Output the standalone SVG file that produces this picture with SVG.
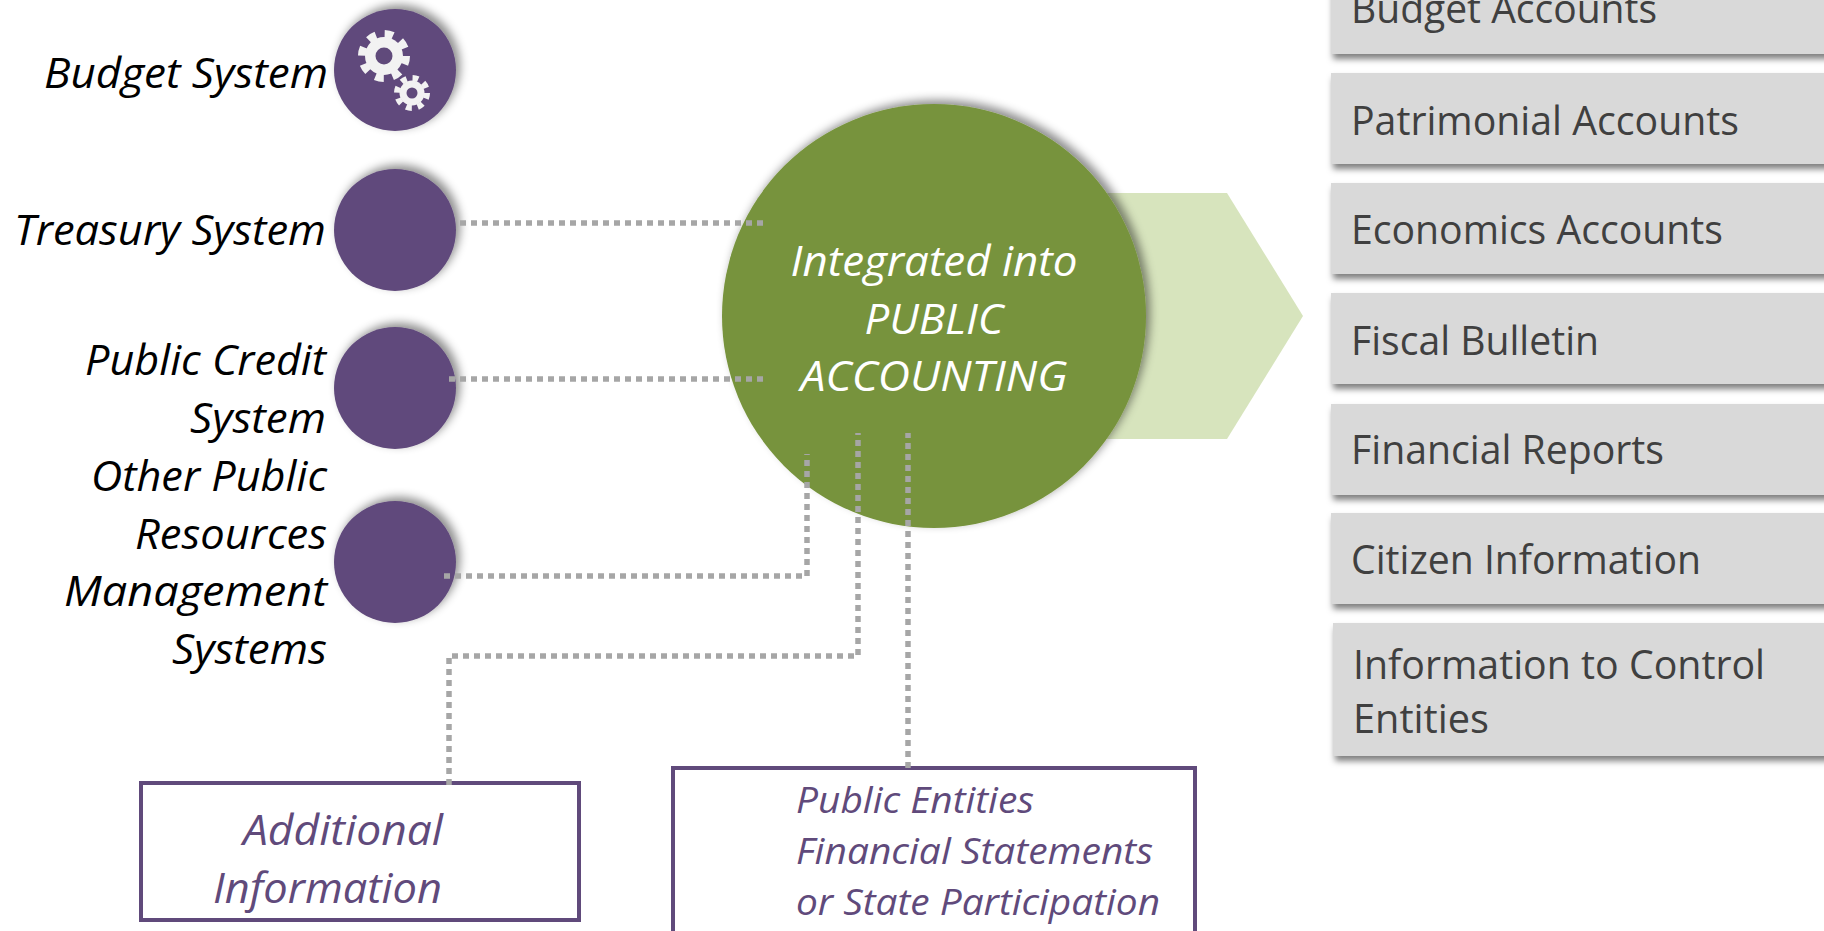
<svg xmlns="http://www.w3.org/2000/svg" width="1824" height="931" viewBox="0 0 1824 931">
<defs>
<filter id="shC" x="-30%" y="-30%" width="160%" height="160%">
<feDropShadow dx="4" dy="-4" stdDeviation="5" flood-color="#000" flood-opacity="0.45"/>
</filter>
<filter id="shB" x="-10%" y="-20%" width="120%" height="150%">
<feDropShadow dx="2" dy="5" stdDeviation="3" flood-color="#000" flood-opacity="0.5"/>
</filter>
<style>
.sys{fill:#604A7B;filter:url(#shC)}
.lbl{font-family:"Open Sans","Liberation Sans",sans-serif;font-style:italic;font-size:42px;fill:#000;text-anchor:end}
.ctr{font-family:"Open Sans","Liberation Sans",sans-serif;font-style:italic;font-size:42px;fill:#fff;text-anchor:middle}
.box{fill:#D9D9D9;filter:url(#shB)}
.btx{font-family:"Open Sans","Liberation Sans",sans-serif;font-size:40px;fill:#404040}
.pbox{fill:#fff;stroke:#604A7B;stroke-width:4}
.ptx{font-family:"Open Sans","Liberation Sans",sans-serif;font-style:italic;fill:#604A7B}
.dot{fill:none;stroke:#A6A6A6;stroke-width:5.5;stroke-dasharray:6 5}
.gear{fill:#F2F2F2}
</style>
</defs>
<rect width="1824" height="931" fill="#fff"/>

<g id="output-arrow">
<polygon points="1000,193 1227,193 1303,316 1227,439 1000,439" fill="#D7E4BD"/>
</g>

<g id="public-accounting">
<circle cx="934" cy="316" r="212" fill="#77933C" filter="url(#shC)"/>
<text class="ctr" x="934" y="276" textLength="287" lengthAdjust="spacingAndGlyphs">Integrated into</text>
<text class="ctr" x="934" y="334" textLength="139" lengthAdjust="spacingAndGlyphs">PUBLIC</text>
<text class="ctr" x="934" y="391" textLength="267" lengthAdjust="spacingAndGlyphs">ACCOUNTING</text>
</g>

<g id="budget-system">
<circle class="sys" cx="395" cy="70" r="61"/>
<g class="gear">
<circle cx="384" cy="56" r="19"/>
<circle cx="384" cy="56" r="22" fill="none" stroke="#F2F2F2" stroke-width="8" stroke-dasharray="8.5 8.78"/>
<circle cx="384" cy="56" r="8.5" fill="#604A7B"/>
<circle cx="412" cy="93" r="12.5"/>
<circle cx="412" cy="93" r="15" fill="none" stroke="#F2F2F2" stroke-width="6" stroke-dasharray="5.8 6"/>
<circle cx="412" cy="93" r="5.5" fill="#604A7B"/>
</g>
<text class="lbl" x="328" y="88" textLength="284" lengthAdjust="spacingAndGlyphs">Budget System</text>
</g>

<g id="treasury-system">
<circle class="sys" cx="395" cy="230" r="61"/>
<text class="lbl" x="326" y="245" textLength="312" lengthAdjust="spacingAndGlyphs">Treasury System</text>
</g>

<g id="public-credit-system">
<circle class="sys" cx="395" cy="388" r="61"/>
<text class="lbl" x="326" y="375" textLength="241" lengthAdjust="spacingAndGlyphs">Public Credit</text>
<text class="lbl" x="326" y="433" textLength="136" lengthAdjust="spacingAndGlyphs">System</text>
</g>

<g id="other-systems">
<circle class="sys" cx="395" cy="562" r="61"/>
<text class="lbl" x="327" y="491" textLength="236" lengthAdjust="spacingAndGlyphs">Other Public</text>
<text class="lbl" x="327" y="549" textLength="192" lengthAdjust="spacingAndGlyphs">Resources</text>
<text class="lbl" x="327" y="606" textLength="263" lengthAdjust="spacingAndGlyphs">Management</text>
<text class="lbl" x="327" y="664" textLength="155" lengthAdjust="spacingAndGlyphs">Systems</text>
</g>

<g id="additional-information">
<rect class="pbox" x="141" y="783" width="438" height="137"/>
<text class="ptx" x="243" y="845" font-size="42" textLength="200" lengthAdjust="spacingAndGlyphs">Additional</text>
<text class="ptx" x="213" y="903" font-size="42" textLength="229" lengthAdjust="spacingAndGlyphs">Information</text>
</g>

<g id="public-entities">
<rect class="pbox" x="673" y="768" width="522" height="180"/>
<text class="ptx" x="796" y="813" font-size="37" textLength="238" lengthAdjust="spacingAndGlyphs">Public Entities</text>
<text class="ptx" x="796" y="864" font-size="37" textLength="357" lengthAdjust="spacingAndGlyphs">Financial Statements</text>
<text class="ptx" x="796" y="915" font-size="37" textLength="364" lengthAdjust="spacingAndGlyphs">or State Participation</text>
</g>

<g id="connectors">
<path class="dot" d="M460,223 H768"/>
<path class="dot" d="M449,379 H768"/>
<path class="dot" d="M444,576 H807 V454"/>
<path class="dot" d="M449,785 V656 H858 V433"/>
<path class="dot" d="M908,768 V433"/>
</g>

<g id="outputs">
<g id="out-budget-accounts"><rect class="box" x="1331" y="-37" width="500" height="91"/><text class="btx" x="1351" y="23" textLength="306" lengthAdjust="spacingAndGlyphs">Budget Accounts</text></g>
<g id="out-patrimonial"><rect class="box" x="1331" y="73" width="500" height="91"/><text class="btx" x="1351" y="135" textLength="388" lengthAdjust="spacingAndGlyphs">Patrimonial Accounts</text></g>
<g id="out-economics"><rect class="box" x="1331" y="183" width="500" height="91"/><text class="btx" x="1351" y="244" textLength="372" lengthAdjust="spacingAndGlyphs">Economics Accounts</text></g>
<g id="out-fiscal"><rect class="box" x="1331" y="293" width="500" height="91"/><text class="btx" x="1351" y="355" textLength="248" lengthAdjust="spacingAndGlyphs">Fiscal Bulletin</text></g>
<g id="out-financial"><rect class="box" x="1331" y="404" width="500" height="91"/><text class="btx" x="1351" y="464" textLength="313" lengthAdjust="spacingAndGlyphs">Financial Reports</text></g>
<g id="out-citizen"><rect class="box" x="1331" y="513" width="500" height="91"/><text class="btx" x="1351" y="574" textLength="350" lengthAdjust="spacingAndGlyphs">Citizen Information</text></g>
<g id="out-control"><rect class="box" x="1333" y="623" width="500" height="133"/><text class="btx" x="1353" y="679" textLength="412" lengthAdjust="spacingAndGlyphs">Information to Control</text><text class="btx" x="1353" y="733" textLength="136" lengthAdjust="spacingAndGlyphs">Entities</text></g>
</g>
</svg>
